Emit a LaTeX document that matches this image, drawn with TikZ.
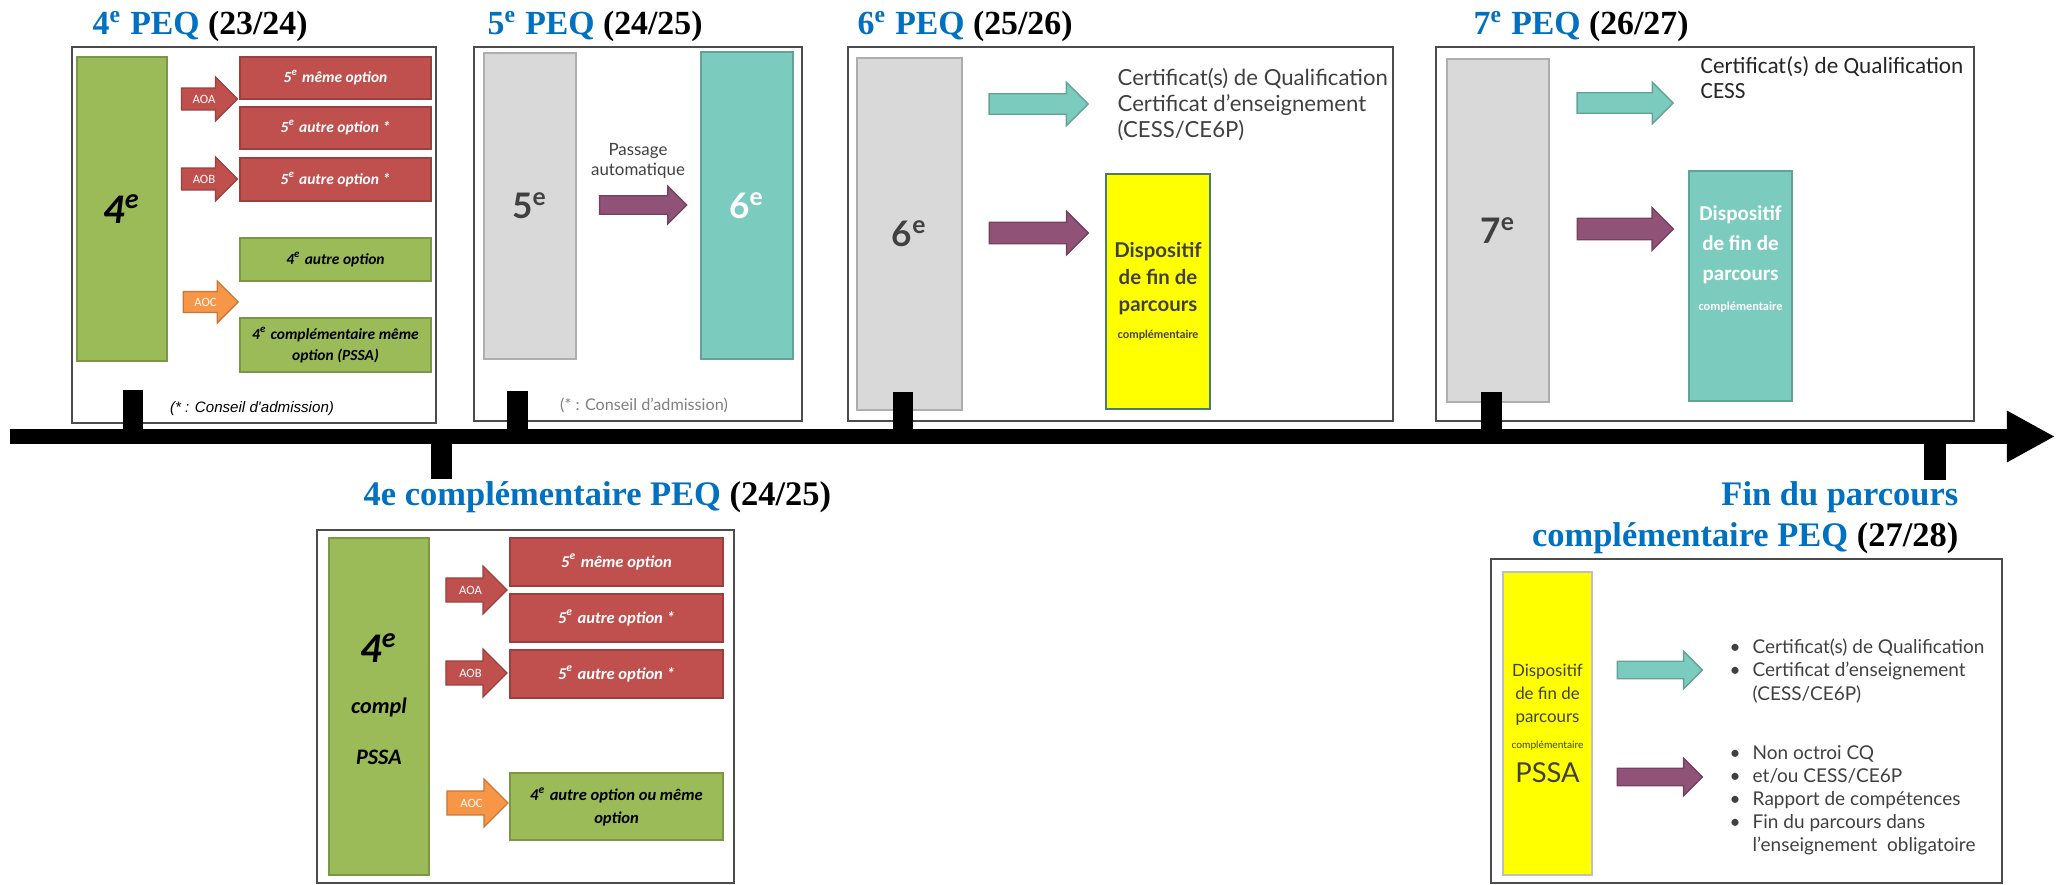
\documentclass[tikz,border=0pt]{standalone}
\usepackage{fontspec}
\setmainfont{Liberation Serif}
\newfontfamily\calibri{Carlito}
\newfontfamily\lato{Lato}
\newfontfamily\arial{Liberation Sans}
\usepackage{tikz}
\usetikzlibrary{arrows.meta}
\usetikzlibrary{shapes.arrows}

\definecolor{bleupeq}{HTML}{0070C0}
\definecolor{rougeopt}{HTML}{C0504D}
\definecolor{vertopt}{HTML}{9BBB59}
\definecolor{orangeopt}{HTML}{F79646}
\definecolor{turq}{HTML}{7BCCBE}
\definecolor{mauve}{HTML}{915278}
\definecolor{grisbloc}{HTML}{D9D9D9}
\definecolor{gristxt}{HTML}{404040}
\definecolor{jaune}{HTML}{FFFF00}

\newcommand{\taille}[2]{\fontsize{#1}{#2}\selectfont}
\newcommand{\puce}{\makebox[0.23cm][l]{\textbullet}}

\begin{document}
\begin{tikzpicture}[x=0.01cm,y=-0.01cm,
	cadre/.style={draw=black!70,line width=0.5pt},
	bloc/.style={draw=#1!80!black,fill=#1,line width=0.4pt,inner sep=0pt,align=center},
	optrouge/.style={bloc=rougeopt,text=white,font=\calibri\bfseries\itshape\taille{4.4}{6}},
	optvert/.style={bloc=vertopt,text=black,font=\calibri\bfseries\itshape\taille{4.4}{6}},
	fleche/.style={single arrow,single arrow head indent=0pt,draw=#1!80!black,fill=#1,line width=0.4pt,inner xsep=0pt,text=white,font=\calibri\taille{3.6}{4}},
	titre/.style={anchor=base west,inner sep=0pt,font=\taille{9.6}{11.7}\bfseries},
	texte/.style={inner sep=0pt,align=left,text=gristxt}]
	\useasboundingbox (0,0) rectangle (2062,885);

	% 4e PEQ
	\node[titre] (titre1) at (92,35) {\textcolor{bleupeq}{4\textsuperscript{e} PEQ} (23/24)};
	\node[cadre,minimum width=3.64cm,minimum height=3.76cm] (cadre1) at (254,235) {};
	\node[bloc=vertopt,minimum width=0.90cm,minimum height=3.04cm,font=\calibri\bfseries\itshape\taille{12}{13}] (q4) at (122,209) {4\textsuperscript{e}};
	\node[optrouge,minimum width=1.91cm,minimum height=0.42cm] (q5a) at (335.5,78) {5\textsuperscript{e} même option};
	\node[optrouge,minimum width=1.91cm,minimum height=0.42cm] (q5b) at (335.5,128) {5\textsuperscript{e} autre option *};
	\node[optrouge,minimum width=1.91cm,minimum height=0.43cm] (q5c) at (335.5,179.5) {5\textsuperscript{e} autre option *};
	\node[optvert,minimum width=1.91cm,minimum height=0.43cm] (q4a) at (335.5,259.5) {4\textsuperscript{e} autre option};
	\node[optvert,minimum width=1.91cm,minimum height=0.54cm] (q4b) at (335.5,345) {4\textsuperscript{e} complémentaire même\\option (PSSA)};
	\node[fleche=rougeopt,inner ysep=0.061cm,minimum height=0.56cm,single arrow head extend=0.11cm] (aoa1) at (204,99) {AOA};
	\node[fleche=rougeopt,inner ysep=0.061cm,minimum height=0.56cm,single arrow head extend=0.11cm] (aob1) at (204,179) {AOB};
	\node[fleche=orangeopt,inner ysep=0.056cm,minimum height=0.55cm,single arrow head extend=0.105cm] (aoc1) at (205.5,302) {AOC};
	\node[inner sep=0pt,font=\arial\itshape\taille{4.3}{5}] (note1) at (252,409) {(* : Conseil d'admission)};

	% 5e PEQ
	\node[titre] (titre2) at (487,35) {\textcolor{bleupeq}{5\textsuperscript{e} PEQ} (24/25)};
	\node[cadre,minimum width=3.28cm,minimum height=3.74cm] (cadre2) at (638,234) {};
	\node[bloc=grisbloc,minimum width=0.92cm,minimum height=3.06cm,text=gristxt,font=\lato\bfseries\taille{10}{12}] (q5) at (530,206) {5\textsuperscript{e}};
	\node[bloc=turq,minimum width=0.92cm,minimum height=3.07cm,text=white,font=\lato\bfseries\taille{10}{12}] (q6) at (747,205.5) {6\textsuperscript{e}};
	\node[fleche=mauve,inner ysep=0.085cm,minimum height=0.87cm,single arrow head extend=0.095cm] (passage) at (638.5,205) {};
	\node[texte,align=center,font=\lato\taille{4.8}{5.7}] (auto) at (638,161) {Passage\\automatique};
	\node[inner sep=0pt,text=black!50,font=\lato\taille{4.6}{5}] (note2) at (644,405) {(* : Conseil d’admission)};

	% 6e PEQ
	\node[titre] (titre3) at (857,35) {\textcolor{bleupeq}{6\textsuperscript{e} PEQ} (25/26)};
	\node[cadre,minimum width=5.45cm,minimum height=3.74cm] (cadre3) at (1120.5,234) {};
	\node[bloc=grisbloc,minimum width=1.05cm,minimum height=3.52cm,text=gristxt,font=\lato\bfseries\taille{10}{12}] (s6) at (909.5,234) {6\textsuperscript{e}};
	\node[fleche=turq,inner ysep=0.095cm,minimum height=0.99cm,single arrow head extend=0.115cm] (cq6) at (1033.5,104) {};
	\node[fleche=mauve,inner ysep=0.1cm,minimum height=0.99cm,single arrow head extend=0.11cm] (dp6) at (1033.5,233) {};
	\node[texte,anchor=west,font=\lato\taille{6.3}{7.4}] (cert6) at (1117,105) {Certificat(s) de Qualification\\Certificat d’enseignement\\(CESS/CE6P)};
	\node[bloc=jaune,draw=turq!60!black,minimum width=1.04cm,minimum height=2.35cm,text=gristxt,font=\lato\bfseries\taille{5.8}{7.7}] (fin6) at (1158,291.5) {Dispositif\\de fin de\\parcours\\{\taille{3.2}{7.7}complémentaire}};

	% 7e PEQ
	\node[titre] (titre4) at (1473,35) {\textcolor{bleupeq}{7\textsuperscript{e} PEQ} (26/27)};
	\node[cadre,minimum width=5.38cm,minimum height=3.74cm] (cadre4) at (1705,234) {};
	\node[bloc=grisbloc,minimum width=1.02cm,minimum height=3.43cm,text=gristxt,font=\lato\bfseries\taille{10}{12}] (s7) at (1498,230.5) {7\textsuperscript{e}};
	\node[fleche=turq,inner ysep=0.095cm,minimum height=0.96cm,single arrow head extend=0.105cm] (cq7) at (1620,103) {};
	\node[fleche=mauve,inner ysep=0.1cm,minimum height=0.96cm,single arrow head extend=0.105cm] (dp7) at (1620,229) {};
	\node[texte,anchor=west,text=black!85,font=\calibri\taille{6.6}{7.1}] (cert7) at (1700,77.5) {Certificat(s) de Qualification\\CESS};
	\node[bloc=turq,minimum width=1.03cm,minimum height=2.30cm] (fin7) at (1740.5,286) {};
	\node[inner sep=0pt,align=center,text=white,font=\calibri\bfseries\taille{6}{8.5}] (fin7txt) at (1740.5,259) {Dispositif\\de fin de\\parcours\\{\taille{3.5}{8.5}complémentaire}};

	% 4e complementaire PEQ
	\node[titre,font=\taille{9.8}{11.7}\bfseries] (titre5) at (363,505) {\textcolor{bleupeq}{4e complémentaire PEQ} (24/25)};
	\node[cadre,minimum width=4.17cm,minimum height=3.53cm] (cadre5) at (525.5,706.5) {};
	\node[bloc=vertopt,minimum width=1.00cm,minimum height=3.37cm] (c4) at (379,706.5) {};
	\node[inner sep=0pt,align=center,font=\calibri\bfseries\itshape\taille{6.3}{14.5}] (c4txt) at (379,699) {{\taille{12}{14.5}4\textsuperscript{e}}\\compl\\PSSA};
	\node[optrouge,minimum width=2.13cm,minimum height=0.48cm,font=\calibri\bfseries\itshape\taille{4.7}{6.5}] (c5a) at (616.5,562) {5\textsuperscript{e} même option};
	\node[optrouge,minimum width=2.13cm,minimum height=0.48cm,font=\calibri\bfseries\itshape\taille{4.7}{6.5}] (c5b) at (616.5,618) {5\textsuperscript{e} autre option *};
	\node[optrouge,minimum width=2.13cm,minimum height=0.48cm,font=\calibri\bfseries\itshape\taille{4.7}{6.5}] (c5c) at (616.5,674) {5\textsuperscript{e} autre option *};
	\node[optvert,minimum width=2.13cm,minimum height=0.67cm,font=\calibri\bfseries\itshape\taille{4.7}{6.5}] (c4a) at (616.5,806.5) {4\textsuperscript{e} autre option ou même\\option};
	\node[fleche=rougeopt,inner ysep=0.071cm,minimum height=0.61cm,single arrow head extend=0.12cm] (aoa5) at (470.5,590) {AOA};
	\node[fleche=rougeopt,inner ysep=0.071cm,minimum height=0.61cm,single arrow head extend=0.12cm] (aob5) at (470.5,673) {AOB};
	\node[fleche=orangeopt,inner ysep=0.071cm,minimum height=0.61cm,single arrow head extend=0.12cm] (aoc5) at (471.5,803) {AOC};

	% Fin du parcours complementaire PEQ
	\node[anchor=north east,align=right,inner sep=0pt,font=\taille{9.8}{11.7}\bfseries] (titre6) at (1959,481) {\textcolor{bleupeq}{Fin du parcours}\\\textcolor{bleupeq}{complémentaire PEQ} (27/28)};
	\node[cadre,minimum width=5.11cm,minimum height=3.24cm] (cadre6) at (1746.5,721) {};
	\node[bloc=jaune,draw=black!25,minimum width=0.89cm,minimum height=3.03cm,text=gristxt,font=\lato\taille{4.8}{6.5}] (pssa) at (1547.5,723.5) {Dispositif\\de fin de\\parcours\\[1pt]{\taille{2.9}{6.5}complémentaire}\\[3pt]{\taille{7.8}{8}PSSA}};
	\node[fleche=turq,inner ysep=0.08cm,minimum height=0.85cm,single arrow head extend=0.10cm] (cq8) at (1655.5,670) {};
	\node[fleche=mauve,inner ysep=0.08cm,minimum height=0.85cm,single arrow head extend=0.10cm] (dp8) at (1655.5,777) {};
	\node[texte,anchor=west,font=\lato\taille{5.4}{6.55}] (liste1) at (1729,671) {\puce Certificat(s) de Qualification\\\puce Certificat d’enseignement\\\hspace*{0.23cm}(CESS/CE6P)};
	\node[texte,anchor=west,font=\lato\taille{5.4}{6.55}] (liste2) at (1729,800) {\puce Non octroi CQ\\\puce et/ou CESS/CE6P\\\puce Rapport de compétences\\\puce Fin du parcours dans\\\hspace*{0.23cm}l’enseignement\ \ obligatoire};

	% axe du temps
	\fill (123,390) rectangle (143,437);
	\fill (507,391) rectangle (528,437);
	\fill (893,392) rectangle (913,437);
	\fill (1481,392) rectangle (1502,437);
	\fill (431,436) rectangle (452,479);
	\fill (1924,436) rectangle (1946,480);
	\coordinate (debut) at (10,436.5);
	\coordinate (fin) at (2055,436.5);
	\draw[line width=0.15cm,-{Triangle[length=0.48cm,width=0.48cm]}] (debut) -- (fin);
\end{tikzpicture}
\end{document}
